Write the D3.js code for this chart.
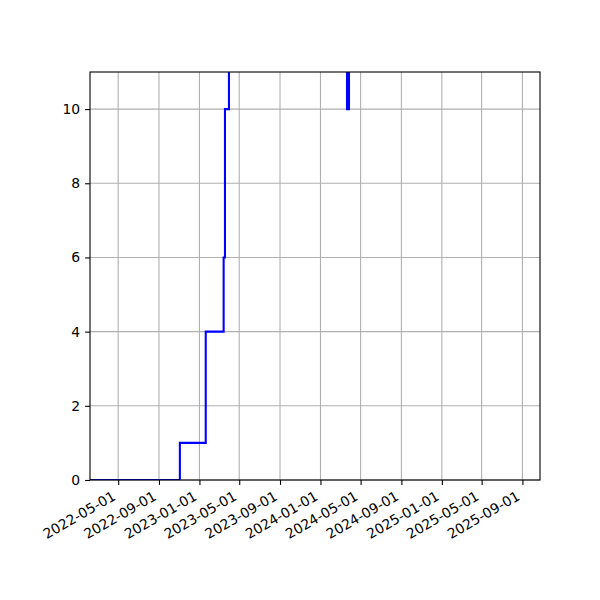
<html>
<head>
<script src="https://d3js.org/d3.v7.min.js"></script>
<style>
body { margin: 0; background: #fff; }
svg { display: block; }
text { font-family: 'DejaVu Sans', sans-serif; font-size: 13.9px; fill: #000; }
</style>
</head>
<body>
<svg width="600" height="600"></svg>
<script>
// step points (value holds until the next date)
var stepDates = ["2022-02-05", "2022-11-03", "2023-01-20", "2023-03-15", "2023-03-19",
                 "2023-03-31", "2024-03-21", "2024-03-27", "2025-08-23"];
var stepValues = [0, 1, 4, 6, 10, 30, 10, 30, 30];

var xTicks = ["2022-05-01", "2022-09-01", "2023-01-01", "2023-05-01", "2023-09-01", "2024-01-01",
              "2024-05-01", "2024-09-01", "2025-01-01", "2025-05-01", "2025-09-01"];
var yTicks = [0, 2, 4, 6, 8, 10];
var xRange = ["2022-02-05", "2025-10-24"];
var yRange = [0, 11];

var parse = d3.utcParse("%Y-%m-%d");
var svg = d3.select("svg");
var plotL = 90, plotR = 540, plotT = 72, plotB = 480;

var x = d3.scaleUtc().domain(xRange.map(parse)).range([plotL, plotR]);
var y = d3.scaleLinear().domain(yRange).range([plotB, plotT]);

// grid
svg.append("g").selectAll("line").data(xTicks).enter().append("line")
  .attr("x1", function (d) { return x(parse(d)); })
  .attr("x2", function (d) { return x(parse(d)); })
  .attr("y1", plotT).attr("y2", plotB)
  .attr("stroke", "#b0b0b0").attr("stroke-width", 1.1);
svg.append("g").selectAll("line").data(yTicks).enter().append("line")
  .attr("x1", plotL).attr("x2", plotR)
  .attr("y1", function (d) { return y(d); })
  .attr("y2", function (d) { return y(d); })
  .attr("stroke", "#b0b0b0").attr("stroke-width", 1.1);

svg.append("clipPath").attr("id", "clip")
  .append("rect").attr("x", plotL).attr("y", plotT)
  .attr("width", plotR - plotL).attr("height", plotB - plotT);

var pts = stepDates.map(function (d, i) { return [parse(d), stepValues[i]]; });
var line = d3.line()
  .x(function (d) { return x(d[0]); })
  .y(function (d) { return y(d[1]); })
  .curve(d3.curveStepAfter);

svg.append("path").datum(pts)
  .attr("clip-path", "url(#clip)")
  .attr("d", line)
  .attr("fill", "none")
  .attr("stroke", "#0000ff")
  .attr("stroke-width", 2.08);

// axes
var xAxis = d3.axisBottom(x).tickValues(xTicks.map(parse)).tickSize(4.9).tickFormat("");
var gx = svg.append("g").attr("transform", "translate(0," + plotB + ")").call(xAxis);
var yAxis = d3.axisLeft(y).tickValues(yTicks).tickSize(4.9).tickFormat("");
var gy = svg.append("g").attr("transform", "translate(" + plotL + ",0)").call(yAxis);
[gx, gy].forEach(function (g) {
  g.select(".domain").remove();
  g.selectAll("line").attr("stroke", "#000").attr("stroke-width", 1.1);
});

svg.append("rect").attr("x", plotL).attr("y", plotT)
  .attr("width", plotR - plotL).attr("height", plotB - plotT)
  .attr("fill", "none").attr("stroke", "#000").attr("stroke-width", 1.1);

svg.append("g").selectAll("text").data(xTicks).enter().append("text")
  .attr("transform", function (d) {
    return "translate(" + (x(parse(d)) - 1.6) + "," + (plotB + 19) + ") rotate(-30)";
  })
  .attr("text-anchor", "end")
  .text(function (d) { return d; });

svg.append("g").selectAll("text").data(yTicks).enter().append("text")
  .attr("x", plotL - 9.8)
  .attr("y", function (d) { return y(d); })
  .attr("dy", "0.35em")
  .attr("text-anchor", "end")
  .text(function (d) { return d; });
</script>
</body>
</html>
